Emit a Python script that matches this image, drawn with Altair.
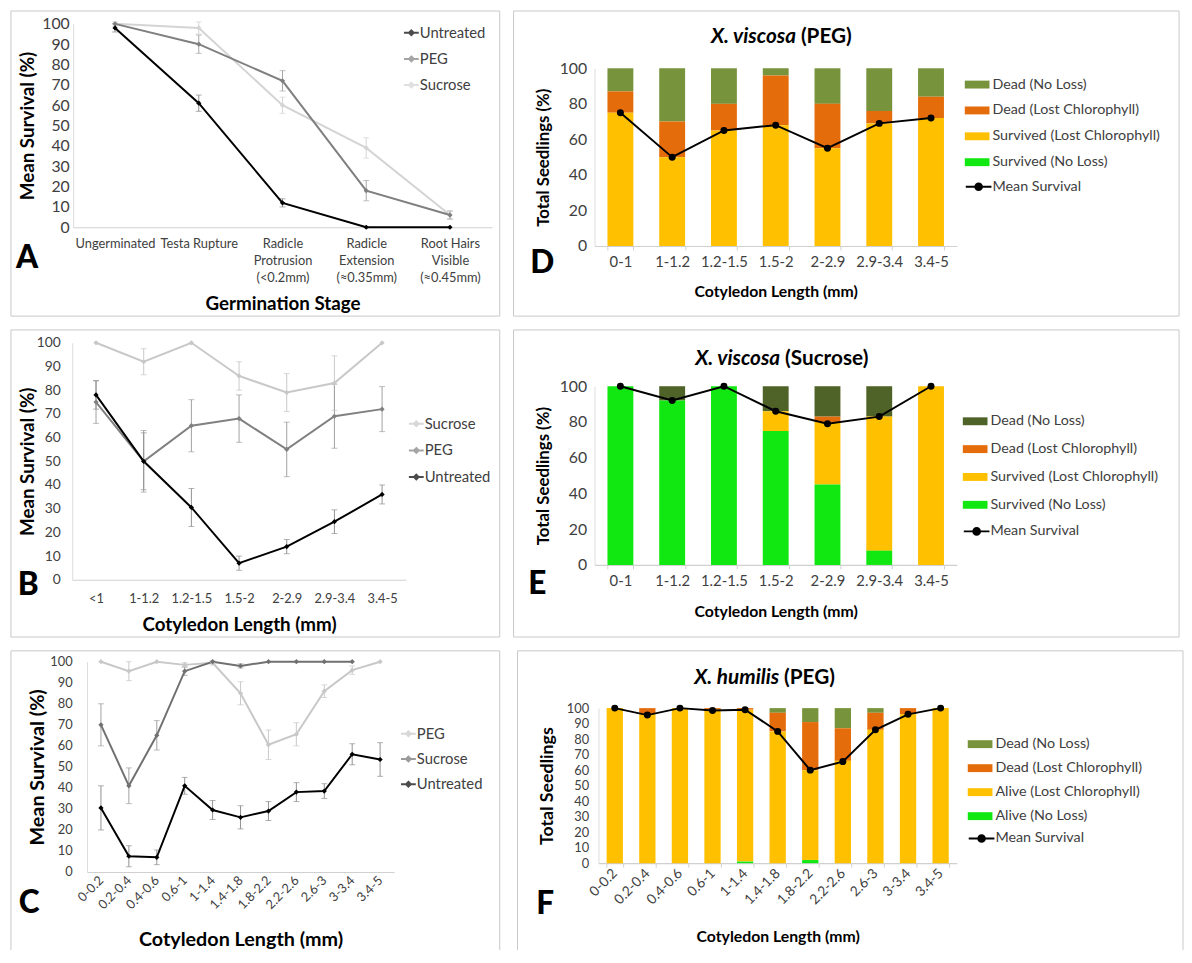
import altair as alt
import pandas as pd

FONT = "Lato"
LABEL_C = "#404040"
FRAME_C = "#c8c8c8"

# ---------------- data ----------------
# Panel A
a_cats = ["Ungerminated", "Testa Rupture", "Radicle|Protrusion|(<0.2mm)",
          "Radicle|Extension|(≈0.35mm)", "Root Hairs|Visible|(≈0.45mm)"]
a_names = ["Untreated", "PEG", "Sucrose"]
a_untreated = [98, 61, 12, 0, 0]
a_untreated_err = [2, 4, 2, 0, 0]
a_peg = [100, 90, 72, 18, 6]
a_peg_err = [0, 4.5, 5, 5, 2]
a_sucrose = [100, 98, 60, 39, 6]
a_sucrose_err = [1, 3, 4, 5, 2]

# Panel B
b_cats = ["<1", "1-1.2", "1.2-1.5", "1.5-2", "2-2.9", "2.9-3.4", "3.4-5"]
b_names = ["Sucrose", "PEG", "Untreated"]
b_sucrose = [100, 92, 100, 86, 79, 83, 100]
b_sucrose_err = [0, 5.5, 0, 6, 8, 11.5, 0]
b_peg = [75, 50, 65, 68, 55, 69, 72]
b_peg_err = [9, 13, 11, 10, 11.5, 13.5, 9.5]
b_untreated = [78, 50, 30.5, 7, 14, 24.5, 36]
b_untreated_err = [6, 12, 8, 3, 3, 5, 4]

# Panel C
c_cats = ["0-0.2", "0.2-0.4", "0.4-0.6", "0.6-1", "1-1.4", "1.4-1.8",
          "1.8-2.2", "2.2-2.6", "2.6-3", "3-3.4", "3.4-5"]
c_names = ["PEG", "Sucrose", "Untreated"]
c_peg = [100, 95.5, 100, 98.5, 99.5, 85, 60.5, 65.5, 86, 96, 100]
c_peg_err = [0, 4.5, 0, 1, 1, 5.5, 7, 5.5, 3, 2, 0]
c_sucrose = [70, 41, 65, 95.5, 100, 98, 100, 100, 100, 100]
c_sucrose_err = [10, 8.5, 7, 2, 0, 1, 0, 0, 0, 0]
c_untreated = [30.5, 7.5, 7, 41, 29.5, 26, 29, 38, 38.5, 56, 53.5]
c_untreated_err = [10.5, 5, 3.5, 4, 4.5, 5.5, 4.5, 4.5, 3.5, 5, 8]

# Panel D  (X. viscosa, PEG)
d_cats = ["0-1", "1-1.2", "1.2-1.5", "1.5-2", "2-2.9", "2.9-3.4", "3.4-5"]
d_surv_noloss = [0, 0, 0, 0, 0, 0, 0]
d_surv_lost = [75, 50, 65, 68, 55, 69, 72]
d_dead_lost = [12, 20, 15, 28, 25, 7, 12]
d_dead_noloss = [13, 30, 20, 4, 20, 24, 16]
d_mean = [75, 50, 65, 68, 55, 69, 72]

# Panel E  (X. viscosa, Sucrose)
e_cats = d_cats
e_surv_noloss = [100, 92, 100, 75, 45, 8, 0]
e_surv_lost = [0, 0, 0, 11, 35, 75, 100]
e_dead_lost = [0, 0, 0, 0, 3, 0, 0]
e_dead_noloss = [0, 8, 0, 14, 17, 17, 0]
e_mean = [100, 92, 100, 86, 79, 83, 100]

# Panel F  (X. humilis, PEG)
f_cats = c_cats
f_alive_noloss = [0, 0, 0, 0, 1, 0, 2, 0, 0, 0, 0]
f_alive_lost = [100, 96, 100, 99, 98, 85, 58, 66, 86, 96, 100]
f_dead_lost = [0, 4, 0, 1, 1, 12, 31, 21, 11, 4, 0]
f_dead_noloss = [0, 0, 0, 0, 0, 3, 9, 13, 3, 0, 0]
f_mean = [100, 95.5, 100, 98.5, 99, 85, 60, 65.5, 86, 96, 100]

sv_labels = ["Dead (No Loss)", "Dead (Lost Chlorophyll)",
             "Survived (Lost Chlorophyll)", "Survived (No Loss)"]
al_labels = ["Dead (No Loss)", "Dead (Lost Chlorophyll)",
             "Alive (Lost Chlorophyll)", "Alive (No Loss)"]

ONE = pd.DataFrame({"k": [0]})


# ---------------- helpers ----------------
def frame(Wf, Hf, open_bottom=False):
    if not open_bottom:
        return [alt.Chart(ONE).mark_rect(fill="white", fillOpacity=0, stroke=FRAME_C,
                                          strokeWidth=1).encode(
            x=alt.value(0), x2=alt.value(Wf), y=alt.value(0), y2=alt.value(Hf))]
    base = alt.Chart(ONE).mark_rule(color=FRAME_C, strokeWidth=1)
    return [
        base.encode(x=alt.value(0), x2=alt.value(Wf), y=alt.value(0)),
        base.encode(x=alt.value(0), y=alt.value(0), y2=alt.value(Hf)),
        base.encode(x=alt.value(Wf), y=alt.value(0), y2=alt.value(Hf)),
    ]


def text(s, x, y, size, weight="bold", style="normal", align="left", color="black"):
    return alt.Chart(ONE).mark_text(text=s, font=FONT, fontSize=size, fontWeight=weight,
                                    fontStyle=style, align=align, baseline="alphabetic",
                                    color=color).encode(x=alt.value(x), y=alt.value(y))


def geometry(g):
    """All positions in g are page coordinates; convert to frame-relative ones."""
    fx0, fy0, fx1, fy1 = g["frame"]
    px0, py0, px1, py1 = g["plot"]
    Wf, Hf = fx1 - fx0, fy1 - fy0
    return dict(
        fx0=fx0, fy0=fy0, Wf=Wf, Hf=Hf,
        xr=[px0 - fx0, px1 - fx0], yr=[py1 - fy0, py0 - fy0],
        xoff=(py1 - fy0) - Hf, yoff=-(px0 - fx0),
        xtitle_x=(px0 + px1) / 2 - fx0, xtitle_y=g["xtitle_c"] - py1,
        ytitle_x=g["ytitle_c"] - px0, ytitle_y=(py0 + py1) / 2 - fy0,
    )


def axes(g, q, xtitle, yvals, band):
    ang = g.get("angle", 0)
    xaxis = alt.Axis(title=xtitle, titleFont=FONT, titleFontSize=g["xts"],
                     titleFontWeight="bold", titleColor="black", titleX=q["xtitle_x"],
                     titleY=q["xtitle_y"], titleAlign="center", titleBaseline="middle",
                     labelFont=FONT, labelFontSize=g["xlab"], labelColor=LABEL_C,
                     labelPadding=g["xlabpad"], labelAngle=ang,
                     labelAlign="right" if ang else "center",
                     labelBaseline="middle" if ang else "top",
                     labelExpr="split(datum.label, '|')", labelLineHeight=17,
                     labelOverlap=False, labelLimit=200, offset=q["xoff"],
                     ticks=band, tickBand="extent" if band else "center", tickSize=4,
                     tickColor="#d0d0d0", domainColor="#d0d0d0", domainWidth=1.2,
                     grid=False)
    yaxis = alt.Axis(title=g["ytitle"], titleFont=FONT, titleFontSize=g["yts"],
                     titleFontWeight="bold", titleColor="black", titleX=q["ytitle_x"],
                     titleY=q["ytitle_y"], titleAngle=-90, titleAlign="center",
                     titleBaseline="middle", labelFont=FONT, labelFontSize=g["ylab"],
                     labelColor=LABEL_C, labelPadding=g["ylabpad"], values=yvals,
                     labelOverlap=False, ticks=False, offset=q["yoff"],
                     domainColor="#dcdcdc", grid=False)
    return xaxis, yaxis


LINE_SYM = "M-1,0L1,0M0,-0.32L0.32,0L0,0.32L-0.32,0Z"


def line_panel(cats, names, vals, errs, colors, ecolors, draw_order, g):
    q = geometry(g)
    rows = []
    for s in draw_order:
        i = names.index(s)
        for j, v in enumerate(vals[i]):
            e = errs[i][j]
            rows.append(dict(cat=cats[j], series=s, v=v, lo=v - e, hi=v + e, err=e,
                             ec=ecolors[i]))
    df = pd.DataFrame(rows)
    xaxis, yaxis = axes(g, q, g["xtitle"], list(range(0, 101, 10)), False)
    X = alt.X("cat:N", sort=cats, scale=alt.Scale(type="point", padding=0.5, range=q["xr"]),
              axis=xaxis)
    ysc = alt.Scale(domain=[0, 100], nice=False, range=q["yr"])
    cscale = alt.Scale(domain=names, range=colors)
    lx, ly = g["leg"]
    legend = alt.Legend(title=None, orient="none", legendX=lx - q["fx0"],
                        legendY=ly - q["fy0"], labelFont=FONT, labelFontSize=g["legfs"],
                        labelColor=LABEL_C, symbolType=LINE_SYM, symbolSize=225,
                        symbolStrokeWidth=2, rowPadding=g["rowpad"], labelOffset=0,
                        padding=0, labelLimit=300)
    base = alt.Chart(df)
    errd = base.transform_filter("datum.err > 0")
    layers = frame(q["Wf"], q["Hf"], g.get("open", False))
    layers.append(errd.mark_rule(strokeWidth=1).encode(
        x=X, y=alt.Y("lo:Q", scale=ysc, axis=yaxis), y2="hi:Q",
        color=alt.Color("ec:N", scale=None)))
    for fld in ["lo", "hi"]:
        layers.append(errd.mark_tick(size=6, thickness=1).encode(
            x=X, y=alt.Y(f"{fld}:Q", scale=ysc, axis=yaxis),
            color=alt.Color("ec:N", scale=None)))
    for s in draw_order:
        layers.append(base.transform_filter(alt.datum.series == s).mark_line(
            strokeWidth=2).encode(
            x=X, y=alt.Y("v:Q", scale=ysc, axis=yaxis),
            color=alt.Color("series:N", scale=cscale, legend=legend)))
    layers.append(base.mark_point(filled=True, shape="diamond", size=28, opacity=1).encode(
        x=X, y=alt.Y("v:Q", scale=ysc, axis=yaxis),
        fill=alt.Fill("series:N", scale=cscale, legend=None)))
    ltx, lty = g["letter_at"]
    layers.append(text(g["letter"], ltx - q["fx0"], lty - q["fy0"], 32, weight=900))
    return alt.layer(*layers).properties(width=q["Wf"], height=q["Hf"])


BAR_SYM = "M-1,-0.32L1,-0.32L1,0.32L-1,0.32Z"
MEAN_SYM = "M-1,0L1,0M-0.26,0A0.26,0.26 0 1,0 0.26,0A0.26,0.26 0 1,0 -0.26,0Z"


def bar_panel(cats, snl, slc, dlc, dnl, mean, labels, colors, g):
    q = geometry(g)
    rows = []
    for j, c in enumerate(cats):
        for k, (lab, arr) in enumerate(zip(labels, [dnl, dlc, slc, snl])):
            rows.append(dict(cat=c, status=lab, v=arr[j], ord=3 - k))
    bars = pd.DataFrame(rows)
    mdf = pd.DataFrame({"cat": cats, "v": mean, "ms": ["Mean Survival"] * len(cats)})
    xaxis, yaxis = axes(g, q, "Cotyledon Length (mm)", g["yvals"], True)
    X = alt.X("cat:N", sort=cats,
              scale=alt.Scale(type="band", paddingInner=0.5, paddingOuter=0.25,
                              range=q["xr"]), axis=xaxis)
    ysc = alt.Scale(domain=[0, 100], nice=False, range=q["yr"])
    lx, ly1, ly2 = g["leg"]
    leg1 = alt.Legend(title=None, orient="none", legendX=lx - q["fx0"],
                      legendY=ly1 - q["fy0"], labelFont=FONT, labelFontSize=g["legfs"],
                      labelColor=LABEL_C, symbolType=BAR_SYM, symbolSize=g["symw"] ** 2,
                      symbolStrokeWidth=0, rowPadding=g["rowpad"], labelOffset=3,
                      padding=0, labelLimit=300)
    leg2 = alt.Legend(title=None, orient="none", legendX=lx - q["fx0"],
                      legendY=ly2 - q["fy0"], labelFont=FONT, labelFontSize=g["legfs"],
                      labelColor=LABEL_C, symbolType=MEAN_SYM,
                      symbolSize=(g["symw"] + 1) ** 2, symbolStrokeWidth=2,
                      symbolFillColor="black", labelOffset=0, padding=0, labelLimit=300)
    layers = frame(q["Wf"], q["Hf"], g.get("open", False))
    layers.append(alt.Chart(bars).mark_bar().encode(
        x=X, y=alt.Y("v:Q", stack="zero", scale=ysc, axis=yaxis),
        color=alt.Color("status:N", scale=alt.Scale(domain=labels, range=colors),
                        legend=leg1),
        order=alt.Order("ord:Q", sort="ascending")))
    layers.append(alt.Chart(mdf).mark_line(strokeWidth=2).encode(
        x=X, y=alt.Y("v:Q", scale=ysc, axis=yaxis),
        stroke=alt.Stroke("ms:N", scale=alt.Scale(domain=["Mean Survival"],
                                                  range=["#000000"]), legend=leg2)))
    layers.append(alt.Chart(mdf).mark_point(filled=True, shape="circle", size=50,
                                            color="black", opacity=1).encode(
        x=X, y=alt.Y("v:Q", scale=ysc, axis=yaxis)))
    it, nm, sx, sy = g["title"]
    layers.append(text(it, sx - q["fx0"], sy - q["fy0"], g["title_fs"], style="italic",
                       align="right"))
    layers.append(text(nm, sx + 5 - q["fx0"], sy - q["fy0"], g["title_fs"], align="left"))
    ltx, lty = g["letter_at"]
    layers.append(text(g["letter"], ltx - q["fx0"], lty - q["fy0"], 32, weight=900))
    return alt.layer(*layers).properties(width=q["Wf"], height=q["Hf"])


LEFT = (10, 505)
RIGHT = (515, 1189)
ROW1 = (9, 318)
ROW2 = (330, 641)
ROW3 = (653, 956)

# ---------------- panels ----------------
A = line_panel(a_cats, a_names, [a_untreated, a_peg, a_sucrose],
               [a_untreated_err, a_peg_err, a_sucrose_err],
               ["#000000", "#7f7f7f", "#d4d4d4"], ["#8c8c8c", "#a6a6a6", "#d4d4d4"],
               ["Sucrose", "PEG", "Untreated"],
               dict(frame=(LEFT[0], ROW1[0], LEFT[1], ROW1[1]), plot=(73, 22, 497, 228),
                    xtitle="Germination Stage", ytitle="Mean Survival (%)", xts=19, yts=19,
                    xtitle_c=305, ytitle_c=27, xlab=13, xlabpad=11, ylab=16, ylabpad=4,
                    leg=(407, 22.5), legfs=15, rowpad=9.5, letter="A",
                    letter_at=(15, 269)))

B = line_panel(b_cats, b_names, [b_sucrose, b_peg, b_untreated],
               [b_sucrose_err, b_peg_err, b_untreated_err],
               ["#c8c8c8", "#808080", "#000000"], ["#c8c8c8", "#a0a0a0", "#909090"],
               ["Sucrose", "PEG", "Untreated"],
               dict(frame=(LEFT[0], ROW2[0], LEFT[1], ROW2[1]), plot=(72, 343, 410, 583),
                    xtitle="Cotyledon Length (mm)", ytitle="Mean Survival (%)", xts=19,
                    yts=19, xtitle_c=628, ytitle_c=27, xlab=13, xlabpad=13, ylab=14,
                    ylabpad=12, leg=(412, 416.5), legfs=15, rowpad=10, letter="B",
                    letter_at=(17, 598)))

C = line_panel(c_cats, c_names, [c_peg, c_sucrose, c_untreated],
               [c_peg_err, c_sucrose_err, c_untreated_err],
               ["#c8c8c8", "#707070", "#000000"], ["#c8c8c8", "#a0a0a0", "#909090"],
               ["PEG", "Sucrose", "Untreated"],
               dict(frame=(LEFT[0], ROW3[0], LEFT[1], ROW3[1]), plot=(87, 664, 398, 877),
                    xtitle="Cotyledon Length (mm)", ytitle="Mean Survival (%)", xts=20,
                    yts=20, xtitle_c=945, ytitle_c=37, xlab=13, xlabpad=6, ylab=13,
                    ylabpad=15, angle=-45, leg=(404, 728.5), legfs=15, rowpad=8.5,
                    letter="C", letter_at=(18, 918), open=True))

D = bar_panel(d_cats, d_surv_noloss, d_surv_lost, d_dead_lost, d_dead_noloss, d_mean,
              sv_labels, ["#77933c", "#e46c0a", "#ffc000", "#11e811"],
              dict(frame=(RIGHT[0], ROW1[0], RIGHT[1], ROW1[1]), plot=(597, 67, 964, 247),
                   ytitle="Total Seedlings (%)", xts=16, yts=17, xtitle_c=293,
                   ytitle_c=545, xlab=15, xlabpad=5, ylab=16, ylabpad=8,
                   yvals=list(range(0, 101, 20)), leg=(972, 71, 173), legfs=14.5,
                   symw=25, rowpad=7.2, title=("X. viscosa", "(PEG)", 801, 41),
                   title_fs=21, letter="D", letter_at=(532, 274)))

E = bar_panel(e_cats, e_surv_noloss, e_surv_lost, e_dead_lost, e_dead_noloss, e_mean,
              sv_labels, ["#4f6228", "#e46c0a", "#ffc000", "#11e811"],
              dict(frame=(RIGHT[0], ROW2[0], RIGHT[1], ROW2[1]), plot=(597, 387, 964, 568),
                   ytitle="Total Seedlings (%)", xts=16, yts=17, xtitle_c=615,
                   ytitle_c=545, xlab=15, xlabpad=5, ylab=16, ylabpad=8,
                   yvals=list(range(0, 101, 20)), leg=(970, 410, 520), legfs=14.5,
                   symw=25, rowpad=9.2, title=("X. viscosa", "(Sucrose)", 785, 365),
                   title_fs=21, letter="E", letter_at=(530, 597)))

F = bar_panel(f_cats, f_alive_noloss, f_alive_lost, f_dead_lost, f_dead_noloss, f_mean,
              al_labels, ["#77933c", "#e46c0a", "#ffc000", "#11e811"],
              dict(frame=(RIGHT[0], ROW3[0], RIGHT[1], ROW3[1]), plot=(597, 711, 960, 868),
                   ytitle="Total Seedlings", xts=16, yts=18, xtitle_c=942, ytitle_c=545,
                   xlab=14, xlabpad=4, ylab=13, ylabpad=10,
                   yvals=list(range(0, 101, 10)), angle=-45, leg=(971, 735, 829),
                   legfs=14.5, symw=25, rowpad=5.3, title=("X. humilis", "(PEG)", 780, 687),
                   title_fs=21, letter="F", letter_at=(534, 920), open=True))


def row(a, b):
    return alt.hconcat(a, b, spacing=12).resolve_scale(
        color="independent", fill="independent", stroke="independent",
        x="independent", y="independent").resolve_legend(
        color="independent", fill="independent", stroke="independent")


chart = alt.vconcat(row(A, D), row(B, E), row(C, F), spacing=12).resolve_scale(
    color="independent", fill="independent", stroke="independent",
    x="independent", y="independent").resolve_legend(
    color="independent", fill="independent", stroke="independent").properties(
    padding={"left": 2, "top": -4, "right": 0, "bottom": 0},
    background="white",
).configure_view(strokeWidth=0).configure_axis(grid=False)

chart.save("out.html", embed_options={"renderer": "svg", "actions": False})
